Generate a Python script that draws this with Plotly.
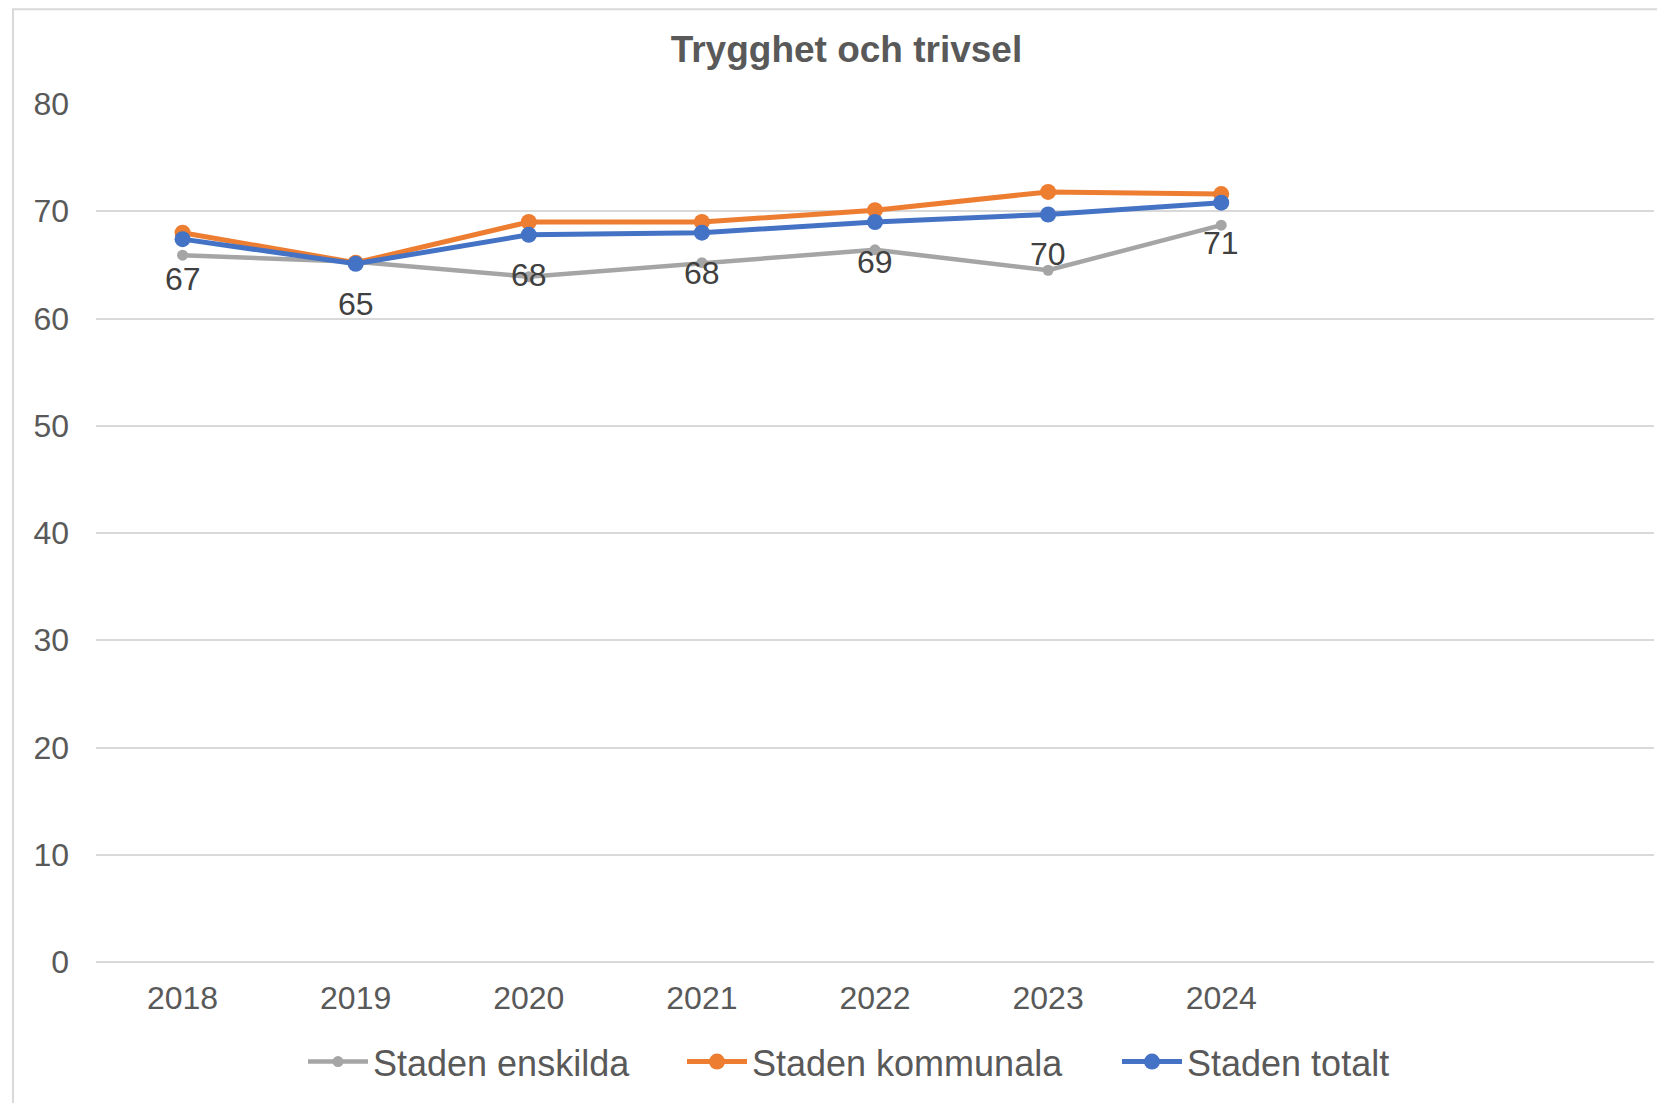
import plotly.graph_objects as go

years = ["2018", "2019", "2020", "2021", "2022", "2023", "2024"]
enskilda = [65.9, 65.3, 63.9, 65.2, 66.4, 64.5, 68.7]
kommunala = [68.0, 65.2, 69.0, 69.0, 70.1, 71.8, 71.6]
totalt = [67.4, 65.1, 67.8, 68.0, 69.0, 69.7, 70.8]
yticks = [0, 10, 20, 30, 40, 50, 60, 70, 80]
n_slots = 9  # category axis has room for 9 categories

xpos = list(range(len(years)))

# page has an 8px body margin
W, H = 1657, 1095
L, R, T, B = 88, 11, 96, 138
pw, ph = W - L - R, H - T - B

fig = go.Figure()
series = [
    ("Staden enskilda", enskilda, "#A5A5A5", "legend", 303, 4.5, 11),
    ("Staden kommunala", kommunala, "#ED7D31", "legend2", 682, 5, 16),
    ("Staden totalt", totalt, "#4472C4", "legend3", 1117, 5, 16),
]
for name, vals, col, lg, _, lw, ms in series:
    fig.add_trace(go.Scatter(
        x=xpos, y=vals, name=name, mode="lines+markers",
        line=dict(color=col, width=lw),
        marker=dict(color=col, size=ms),
        legend=lg,
    ))

for xi, v in zip(xpos, totalt):
    fig.add_annotation(x=xi, y=v, text=f"{round(v):d}", showarrow=False,
                       yshift=-40, font=dict(family="Liberation Sans", size=32, color="#404040"))

fig.add_shape(type="rect", xref="paper", yref="paper",
              x0=(5 - L) / pw, x1=1.2, y0=-0.3, y1=1 + (T - 1) / ph,
              line=dict(color="#D9D9D9", width=2), layer="below")

leg_y = -(1057 - (T + ph)) / ph
legs = {}
for name, vals, col, lg, xf, lw, ms in series:
    legs[lg] = dict(orientation="h", x=(xf - 8 - L) / pw, xanchor="left",
                    y=leg_y, yanchor="middle", itemwidth=60,
                    font=dict(family="Liberation Sans", size=36, color="#595959"),
                    bgcolor="rgba(0,0,0,0)")

fig.update_layout(
    width=W, height=H,
    margin=dict(l=L, r=R, t=T, b=B),
    paper_bgcolor="white", plot_bgcolor="white",
    font=dict(family="Liberation Sans", color="#595959"),
    title=dict(text="<b>Trygghet och trivsel</b>", x=0.506, xanchor="center",
               y=1 - 41 / H, yanchor="middle",
               font=dict(family="Liberation Sans", size=37, color="#595959")),
    xaxis=dict(range=[-0.5, n_slots - 0.5], tickvals=xpos, ticktext=years,
               showgrid=False, zeroline=False, showline=False,
               tickfont=dict(size=32, color="#595959"), ticks="", ticklabelstandoff=14),
    yaxis=dict(range=[0, 80], tickvals=yticks, showgrid=True, gridcolor="#D9D9D9",
               gridwidth=1.5, zeroline=True, zerolinecolor="#D9D9D9", zerolinewidth=1.5,
               showline=False,
               tickfont=dict(size=32, color="#595959"), ticks="", ticklabelstandoff=26),
    showlegend=True,
    **legs,
)

fig.write_html("out.html")
